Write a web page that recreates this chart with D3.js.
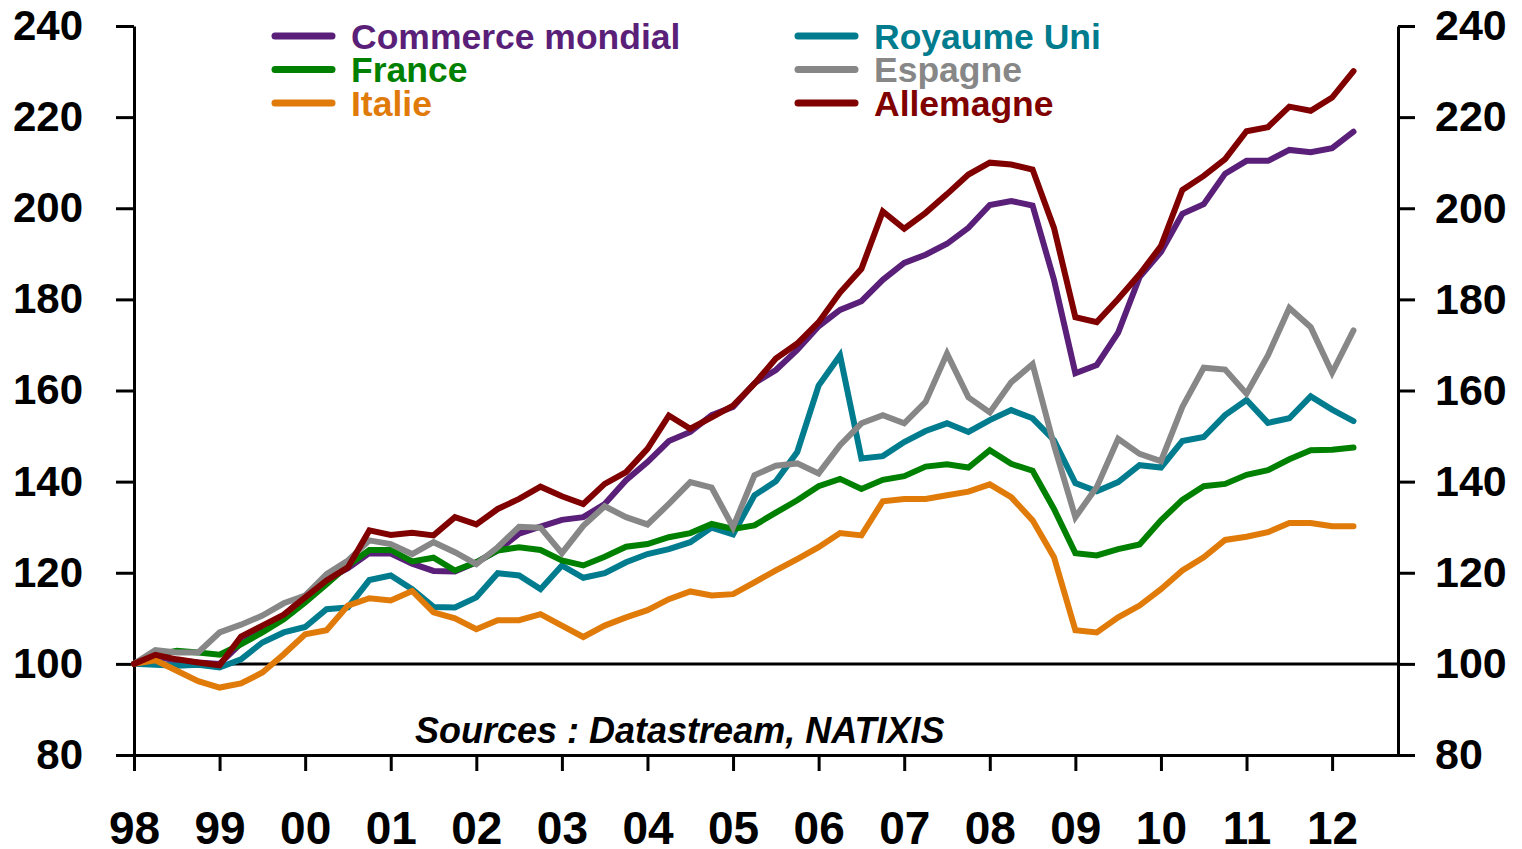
<!DOCTYPE html>
<html lang="fr">
<head>
<meta charset="UTF-8">
<title>Commerce mondial et exportations</title>
<script src="https://cdn.jsdelivr.net/npm/d3@7"></script>
<style>
    body { margin: 0; background: #fff; }
    svg text { font-family: "Liberation Sans", Arial, sans-serif; font-weight: bold; }
</style>
</head>
<body>
<script>
    // trimestres 1998T1 -> 2012T2
    var startYear = 1998;
    var yearLabels = ["98","99","00","01","02","03","04","05","06","07","08","09","10","11","12"];
    var yTicks = [80, 100, 120, 140, 160, 180, 200, 220, 240];

    var commerceMondial = [100,101.5,100.8,100.3,100,104.5,107.5,110.5,115,118.5,121,124.3,124.2,122,120.4,120.3,
        122.3,124.9,128.6,130.1,131.6,132.2,135.1,140.3,144.3,148.9,150.9,154.6,156.4,161.6,164.5,168.9,
        174.1,177.7,179.6,184.3,188,189.8,192.2,195.7,200.7,201.6,200.6,184.3,163.8,165.6,172.7,184.9,
        190.4,198.8,200.9,207.6,210.4,210.4,212.8,212.3,213.2,216.8];
    var royaumeUni = [100,99.8,99.6,99.8,99.2,101,104.7,106.9,108.1,112,112.4,118.4,119.4,116.4,112.5,112.4,
        114.6,119.9,119.4,116.4,121.6,118.9,119.9,122.3,124.1,125.2,126.7,129.9,128.4,137,140.1,146.5,
        161.1,167.7,145.1,145.6,148.7,151.1,152.8,150.9,153.5,155.7,153.9,149.1,139.7,137.9,139.9,143.6,
        143.1,148.9,149.8,154.6,157.9,152.9,153.9,158.7,155.8,153.3];
    var france = [100,102,102.9,102.5,102,104.3,106.9,109.8,113.5,117.5,121.6,125,125,122.5,123.3,120.5,
        122.3,124.9,125.6,125,122.7,121.6,123.5,125.7,126.3,127.8,128.7,130.7,129.6,130.4,133.2,135.9,
        139,140.6,138.4,140.4,141.2,143.3,143.8,143.1,146.9,143.9,142.4,134,124.3,123.8,125.2,126.2,
        131.5,136,139,139.5,141.5,142.5,144.9,146.9,147,147.5];
    var espagne = [100,103,102.5,102.5,106.9,108.6,110.6,113.3,115,119.7,122.7,127.1,126.3,124.1,126.7,124.5,
        121.9,125.6,130.1,129.9,124.3,130.3,134.6,132.2,130.6,135.1,139.9,138.7,130,141.4,143.5,144,
        141.8,148,152.8,154.6,152.8,157.5,168.1,158.5,155.2,161.8,165.8,148,132.2,138.8,149.4,146.1,
        144.5,156.4,165,164.6,159.3,167.7,178.1,173.9,163.9,173.2];
    var italie = [100,100.8,98.5,96.2,94.8,95.7,98.1,102.1,106.5,107.4,112.8,114.4,113.9,116,111.3,110,
        107.6,109.6,109.6,110.9,108.4,105.9,108.4,110.2,111.8,114.2,115.9,115,115.3,117.9,120.5,123,
        125.6,128.7,128.2,135.7,136.2,136.2,137,137.8,139.4,136.6,131.5,123.4,107.4,106.9,110.2,112.8,
        116.4,120.5,123.4,127.2,127.9,128.9,130.9,130.9,130.2,130.2];
    var allemagne = [100,102,101,100.3,99.7,106,108.4,110.8,114.6,118.3,121.2,129.3,128.3,128.8,128.2,132.2,
        130.6,134,136.2,138.9,136.8,135.1,139.5,142.1,147.2,154.5,151.6,154.1,156.7,161.5,167,170.3,
        175,181.5,186.7,199.3,195.5,199,203.1,207.4,210,209.6,208.5,195.7,176.1,175,180.1,185.5,
        191.7,204,207.1,210.8,216.9,217.8,222.3,221.4,224.3,230.1];

    var series = [
        {name: "Commerce mondial", values: commerceMondial, color: "#5a1f78", col: 0, row: 0},
        {name: "Royaume Uni", values: royaumeUni, color: "#007c8e", col: 1, row: 0},
        {name: "France", values: france, color: "#008000", col: 0, row: 1},
        {name: "Espagne", values: espagne, color: "#878787", col: 1, row: 1},
        {name: "Italie", values: italie, color: "#e07b0a", col: 0, row: 2},
        {name: "Allemagne", values: allemagne, color: "#800000", col: 1, row: 2}
    ];

    var width = 1522, height = 849;
    var plotLeft = 134, plotRight = 1398, plotTop = 26, plotBottom = 755;

    var svg = d3.select("body").append("svg")
        .attr("width", width)
        .attr("height", height);

    var x = d3.scaleLinear()
        .domain([startYear, 2012.77])
        .range([plotLeft, plotRight]);

    var y = d3.scaleLinear()
        .domain([80, 240])
        .range([plotBottom, plotTop]);

    // axe gauche
    var gLeft = svg.append("g")
        .attr("transform", "translate(" + plotLeft + ",0)")
        .call(d3.axisLeft(y).tickValues(yTicks).tickSize(18).tickSizeOuter(0).tickPadding(33));

    // axe droit
    var gRight = svg.append("g")
        .attr("transform", "translate(" + plotRight + ",0)")
        .call(d3.axisRight(y).tickValues(yTicks).tickSize(17).tickSizeOuter(0).tickPadding(20));

    // axe du bas
    var yearTicks = yearLabels.map(function (d, i) { return startYear + i; });
    var gBottom = svg.append("g")
        .attr("transform", "translate(0," + plotBottom + ")")
        .call(d3.axisBottom(x).tickValues(yearTicks).tickSize(16).tickSizeOuter(0).tickPadding(40)
            .tickFormat(function (d, i) { return yearLabels[i]; }));

    [gLeft, gRight, gBottom].forEach(function (g) {
        g.selectAll("path, line").attr("stroke", "#000").attr("stroke-width", 3);
        g.selectAll("text").attr("fill", "#000");
    });
    gLeft.selectAll("text").style("font-size", "42px");
    gRight.selectAll("text").style("font-size", "43px");
    gBottom.selectAll("text").style("font-size", "46px");

    // ligne 100
    svg.append("line")
        .attr("x1", plotLeft).attr("x2", plotRight)
        .attr("y1", y(100)).attr("y2", y(100))
        .attr("stroke", "#000")
        .attr("stroke-width", 3);

    var line = d3.line()
        .x(function (d, i) { return x(startYear + i / 4); })
        .y(function (d) { return y(d); });

    svg.selectAll("path.serie")
        .data(series)
        .enter()
        .append("path")
        .attr("class", "serie")
        .attr("d", function (d) { return line(d.values); })
        .attr("fill", "none")
        .attr("stroke", function (d) { return d.color; })
        .attr("stroke-width", 6)
        .attr("stroke-linejoin", "miter")
        .attr("stroke-linecap", "round");

    // légende
    var legendX = [275, 798], legendY = 36, rowH = 33.5;
    var leg = svg.selectAll("g.leg")
        .data(series)
        .enter()
        .append("g")
        .attr("class", "leg")
        .attr("transform", function (d) {
            return "translate(" + legendX[d.col] + "," + (legendY + d.row * rowH) + ")";
        });
    leg.append("line")
        .attr("x1", 0).attr("x2", 57)
        .attr("stroke", function (d) { return d.color; })
        .attr("stroke-width", 7)
        .attr("stroke-linecap", "round");
    leg.append("text")
        .attr("x", 76)
        .attr("y", 12.5)
        .attr("fill", function (d) { return d.color; })
        .style("font-size", "35.5px")
        .text(function (d) { return d.name; });

    svg.append("text")
        .attr("x", 415)
        .attr("y", 743)
        .style("font-size", "36px")
        .style("font-style", "italic")
        .attr("fill", "#000")
        .text("Sources : Datastream, NATIXIS");
</script>
</body>
</html>
